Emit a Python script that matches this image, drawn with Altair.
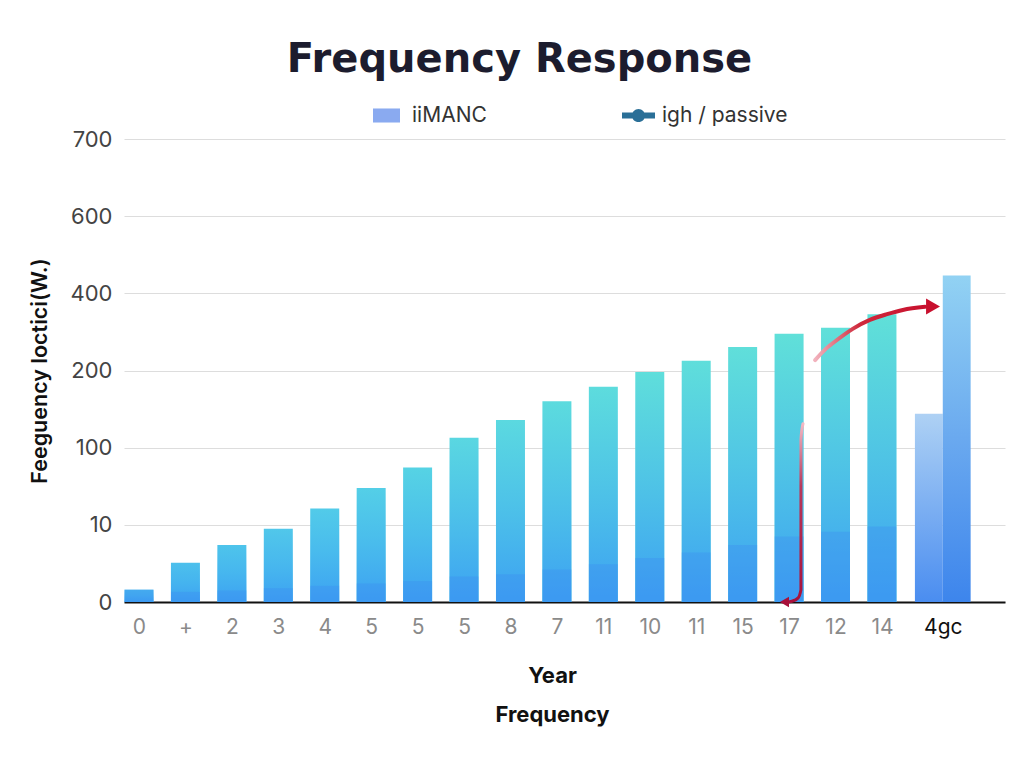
import altair as alt
import pandas as pd

# ---- data -------------------------------------------------------------
categories = ["0", "+", "2", "3", "4", "5", "5", "5", "8", "7",
              "11", "10", "11", "15", "17", "12", "14", "4gc"]
# main (gradient) bars for the first 17 categories
bar_values = [1.6, 5.1, 7.4, 9.5, 29, 53, 77, 113, 136, 160,
              179, 198, 225, 261, 295, 311, 346]
# darker lower portion inside each bar
lower_values = [1.6, 1.3, 1.5, 1.8, 2.1, 2.4, 2.7, 3.3, 3.6, 4.2,
                4.9, 5.7, 6.4, 7.4, 8.5, 9.1, 9.8]
# the last category holds a pair of bars
pair_values = [144, 446]

y_ticks = [0, 10, 100, 200, 400, 600, 700]

# red annotation arrows (x in category index, y in axis units)
arrow_a_x = [14.56, 14.79, 15.03, 15.37, 15.74, 16.11, 16.45, 16.93]
arrow_a_y = [227, 256, 279, 308, 331, 346, 357, 365]
arrow_b_x = [14.30, 14.255, 14.255, 14.255, 14.255, 14.19, 14.06, 13.95]
arrow_b_y = [131, 110, 39, 5.4, 1.6, 0.5, 0.1, 0.0]

# ---- layout constants ---------------------------------------------------
W, H = 881, 463
HALF = 0.312          # half bar width in category units
PAIR_SHIFT = 0.31     # the two-bar group sits a little further right
PAIR_W = 0.6

n = len(bar_values)
main = pd.DataFrame({
    "cat": categories[:n],
    "c": list(range(n)),
    "value": bar_values,
    "lower": lower_values,
})
main["x0"] = main["c"] - HALF
main["x1"] = main["c"] + HALF

pc = n + PAIR_SHIFT
pair = pd.DataFrame({
    "cat": [categories[-1]] * 2,
    "x0": [pc - PAIR_W, pc],
    "x1": [pc, pc + PAIR_W],
    "value": pair_values,
    "part": ["a", "b"],
})

tick_pos = list(range(n)) + [pc]
label_expr = "[" + ",".join("'%s'" % c for c in categories) + "][round(datum.value)]"

x_scale = alt.Scale(domain=[-0.323, 18.65], nice=False, zero=False, padding=0)
y_scale = alt.Scale(domain=y_ticks,
                    range=[H * (1 - i / (len(y_ticks) - 1)) for i in range(len(y_ticks))],
                    nice=False, zero=False, padding=0)

x_axis = alt.Axis(values=tick_pos, labelExpr=label_expr, grid=False, ticks=False,
                  domain=True, domainColor="#111111", domainWidth=2,
                  labelFont="Inter", labelFontSize=21,
                  labelColor={"condition": {"test": "datum.value > %d" % n, "value": "#111111"},
                              "value": "#8a8a8a"},
                  labelPadding=14, labelFlush=False,
                  title=["Year", "Frequency"], titleFont="Inter", titleFontSize=22,
                  titleFontWeight=700, titleColor="#111111", titleLineHeight=39,
                  titleX=428, titleY=63, titleAlign="center", titleBaseline="top")
y_axis = alt.Axis(values=y_ticks, grid=True, gridColor="#dddddd", ticks=False,
                  domain=False, labelFont="Inter", labelFontSize=22,
                  labelColor="#444444", labelPadding=12,
                  title="Feeguency loctici(W.)", titleFont="Inter", titleFontSize=21.5,
                  titleFontWeight=600, titleColor="#111111", titlePadding=19)

# the bar colour drifts from blue (low) to aqua (high) with the bar's top,
# and a vertical wash pulls every bar towards blue at its base
top_colour = alt.Scale(domain=[0, 10, 100, 200, 450],
                       range=["#4ab8ee", "#52c8ea", "#5ad6e2", "#5fdedb", "#62e2d6"])
wash = alt.Gradient(gradient="linear", x1=0, x2=0, y1=0, y2=1, stops=[
    alt.GradientStop(color="rgba(62,168,242,0)", offset=0),
    alt.GradientStop(color="rgba(62,168,242,0.45)", offset=0.45),
    alt.GradientStop(color="rgba(60,160,242,1)", offset=1),
])
light_grad = alt.Gradient(gradient="linear", x1=0, x2=0, y1=0, y2=1, stops=[
    alt.GradientStop(color="#aed1f4", offset=0),
    alt.GradientStop(color="#4a8df0", offset=1),
])
tall_grad = alt.Gradient(gradient="linear", x1=0, x2=0, y1=0, y2=1, stops=[
    alt.GradientStop(color="#92d2f3", offset=0),
    alt.GradientStop(color="#6aa9ef", offset=0.5),
    alt.GradientStop(color="#3d85ec", offset=1),
])

base = alt.Chart(main)
bars = base.mark_bar().encode(
    x=alt.X("x0:Q", scale=x_scale, axis=x_axis),
    x2="x1:Q",
    y=alt.Y("value:Q", scale=y_scale, axis=y_axis),
    y2=alt.datum(0),
    fill=alt.Fill("value:Q", scale=top_colour, legend=None),
)
bars_wash = base.mark_bar(fill=wash).encode(
    x="x0:Q", x2="x1:Q", y="value:Q", y2=alt.datum(0),
)
lower = base.mark_bar(fill="#3b8cf0", opacity=0.35).encode(
    x=alt.X("x0:Q"), x2="x1:Q", y=alt.Y("lower:Q"), y2=alt.datum(0),
)
light_bar = alt.Chart(pair).transform_filter("datum.part == 'a'").mark_bar(fill=light_grad).encode(
    x="x0:Q", x2="x1:Q", y="value:Q", y2=alt.datum(0))
tall_bar = alt.Chart(pair).transform_filter("datum.part == 'b'").mark_bar(fill=tall_grad).encode(
    x="x0:Q", x2="x1:Q", y="value:Q", y2=alt.datum(0))

# annotation arrows
arr_a = pd.DataFrame({"x": arrow_a_x, "y": arrow_a_y, "o": range(len(arrow_a_x))})
arr_b = pd.DataFrame({"x": arrow_b_x, "y": arrow_b_y, "o": range(len(arrow_b_x))})
grad_a = alt.Gradient(gradient="linear", x1=0, x2=1, y1=0, y2=0, stops=[
    alt.GradientStop(color="#f2b3be", offset=0),
    alt.GradientStop(color="#cf2a3c", offset=0.4),
    alt.GradientStop(color="#c8102e", offset=1),
])
grad_b = alt.Gradient(gradient="linear", x1=0, x2=0, y1=0, y2=1, stops=[
    alt.GradientStop(color="#f3b8c4", offset=0),
    alt.GradientStop(color="#b83a5c", offset=0.35),
    alt.GradientStop(color="#a8103a", offset=1),
])
line_a = alt.Chart(arr_a).mark_line(stroke=grad_a, strokeWidth=4, interpolate="monotone",
                                    strokeCap="round").encode(
    x="x:Q", y="y:Q", order="o:Q")
line_b = alt.Chart(arr_b).mark_line(stroke=grad_b, strokeWidth=3, interpolate="monotone",
                                    strokeCap="round").encode(
    x="x:Q", y="y:Q", order="o:Q")
head_a = alt.Chart(pd.DataFrame({"x": [17.10], "y": [366]})).mark_point(
    shape="triangle-right", filled=True, color="#c8102e", size=260, opacity=1).encode(
    x="x:Q", y="y:Q")
head_b = alt.Chart(pd.DataFrame({"x": [13.90], "y": [0.0]})).mark_point(
    shape="triangle-left", filled=True, color="#a8103a", size=110, opacity=1).encode(
    x="x:Q", y="y:Q")

# legend carriers (invisible marks that only feed the legends)
leg_df = pd.DataFrame({"s1": ["iiMANC"], "s2": ["igh / passive"]})
leg_common = dict(orient="none", title=None, padding=0, labelFont="Inter",
                  labelFontSize=21, labelColor="#333333",
                  symbolOpacity=1, symbolStrokeWidth=0)
leg1 = alt.Chart(leg_df).mark_point(filled=True, opacity=0).encode(
    fill=alt.Fill("s1:N", scale=alt.Scale(range=["#8aaaf0"]),
                  legend=alt.Legend(symbolType="M-1,-0.52H1V0.52H-1Z", symbolSize=729,
                                    labelOffset=12, legendX=249, legendY=-37, **leg_common)))
leg2 = alt.Chart(leg_df).mark_point(filled=True, opacity=0).encode(
    color=alt.Color("s2:N", scale=alt.Scale(range=["#2a6f97"]),
                    legend=alt.Legend(
                        symbolType="M-1,-0.18H1V0.18H-1Z M-0.4,0A0.4,0.4 0 1,1 0.4,0A0.4,0.4 0 1,1 -0.4,0Z",
                        symbolSize=1089, labelOffset=7, legendX=498, legendY=-40, **leg_common)))

chart = alt.layer(bars, bars_wash, lower, light_bar, tall_bar, line_a, line_b, head_a, head_b,
                  leg1, leg2).resolve_legend(
    fill="independent", color="independent"
).resolve_scale(fill="independent", color="independent").properties(
    width=W, height=H,
    title=alt.TitleParams("Frequency Response", font="DejaVu Sans", fontSize=40, fontWeight=700,
                          color="#1c1c2e", anchor="middle", dx=-45, offset=19),
    autosize=alt.AutoSizeParams(type="none"),
    padding={"left": 124, "top": 139, "right": 19, "bottom": 159},
    background="white",
).configure_view(stroke=None)

chart.save("out.html", embed_options={"renderer": "svg", "actions": False})
